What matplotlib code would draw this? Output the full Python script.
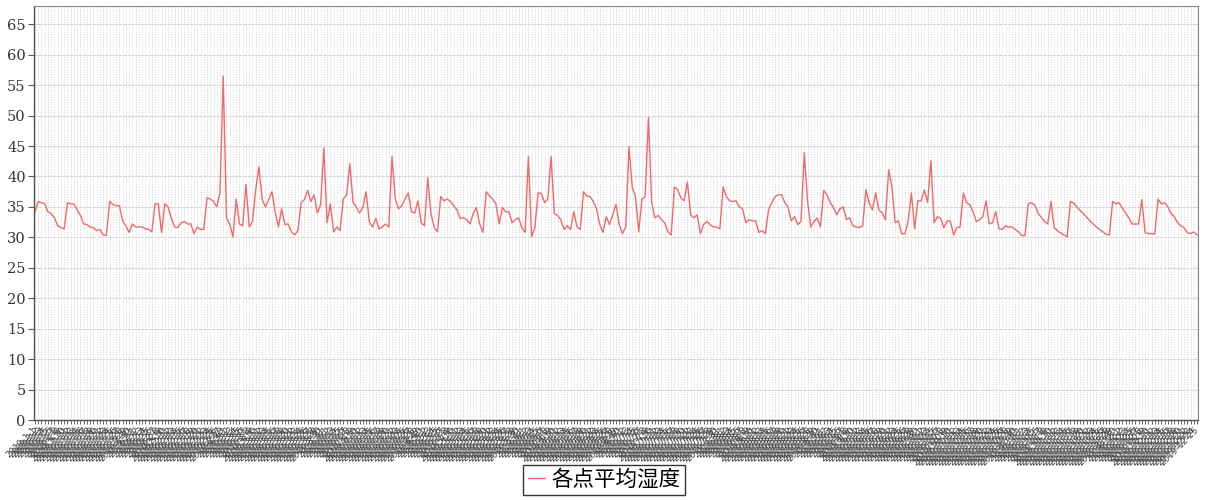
import matplotlib
matplotlib.use("Agg")
import matplotlib.pyplot as plt
import numpy as np
import datetime as dt

humidity = [
    34.2, 35.9, 35.7, 35.5, 34.2, 33.9, 33.2, 31.9, 31.6, 31.4,
    35.7, 35.5, 35.5, 34.5, 33.6, 32.2, 32.1, 31.7, 31.6,
    31.1, 31.3, 30.4, 30.3, 35.9, 35.4, 35.2, 35.2, 32.7, 31.9,
    30.8, 32.2, 31.7, 31.7, 31.7, 31.4, 31.3, 30.9, 35.5, 35.5,
    30.8, 35.5, 35.0, 33.2, 31.7, 31.6, 32.4, 32.6, 32.2, 32.2,
    30.6, 31.7, 31.3, 31.3, 36.5, 36.3, 35.9, 35.0, 37.3, 56.5,
    33.2, 32.2, 30.1, 36.3, 32.2, 31.9, 38.7, 31.7, 32.6, 37.8,
    41.6, 36.2, 35.0, 36.2, 37.5, 34.2, 31.7, 34.7, 32.1, 32.2,
    30.9, 30.4, 31.1, 35.7, 36.2, 37.7, 35.9, 37.0,
    34.0, 35.4, 44.7, 32.4,
    35.5, 30.9, 31.7, 31.1, 36.3, 37.0, 42.1, 35.7, 35.0,
    34.0, 34.9, 37.5, 32.6, 31.7, 33.1, 31.4, 31.7, 32.2, 31.7,
    43.3, 36.3, 34.7, 35.2, 36.3, 37.3, 34.2, 34.0, 36.0, 32.4,
    31.9, 39.8, 33.9, 31.6, 30.9, 36.7, 36.0, 36.3, 35.9,
    35.2, 34.5, 33.1, 33.2, 32.9, 32.2, 33.9, 34.9, 32.2, 30.8,
    37.5, 36.8, 36.3, 35.5, 32.2, 34.9, 34.2, 34.2, 32.4,
    32.9, 33.2, 31.6, 30.8, 43.3, 30.1, 31.6, 37.3, 37.2, 35.7,
    36.3, 43.3, 33.9, 33.6, 32.9, 31.3, 31.9, 31.3, 34.2,
    31.7, 31.3, 37.5, 36.8, 36.7, 35.9, 34.7, 32.1, 30.8, 33.4,
    32.1, 33.7, 35.4, 32.1, 30.6, 31.7, 44.9,
    38.2, 36.7, 30.9, 36.3, 36.7, 49.7, 35.7, 33.2, 33.6, 32.9,
    32.4, 30.9, 30.4, 38.3, 37.8, 36.5, 36.0, 39.1,
    33.7, 33.2, 33.7, 30.6, 32.1, 32.6, 32.1, 31.7, 31.7, 31.4,
    38.3, 36.7, 36.0, 35.9, 36.0, 35.0, 34.7, 32.4, 32.9, 32.7,
    32.7, 30.8, 31.1, 30.6, 34.5, 35.7, 36.7, 37.0, 37.0, 35.7,
    35.0, 32.7, 33.4, 32.1, 32.6, 43.9, 36.0, 31.7, 32.6, 33.2,
    31.7, 37.7, 37.0, 35.7, 34.9, 33.7, 34.7, 35.0, 32.9,
    33.2, 31.9, 31.7, 31.6, 31.9, 37.8, 35.7, 34.5, 37.3, 34.5,
    34.0, 32.9, 41.1, 38.3, 32.4, 32.7, 30.6, 30.6, 32.6, 37.3,
    31.4, 36.0, 36.0, 37.8, 35.7, 42.6,
    32.4, 33.4, 33.1, 31.6, 32.7, 32.7, 30.4, 31.6, 31.7,
    37.3, 35.7, 35.4, 34.2, 32.6, 32.9, 33.4, 36.0, 32.2, 32.4,
    34.2, 31.4, 31.3, 31.9, 31.7, 31.7, 31.3, 30.9, 30.3,
    30.3, 35.5, 35.7, 35.3, 34.0, 33.3, 32.6, 32.2, 35.9,
    31.6, 31.1, 30.7, 30.4, 30.1, 35.9, 35.6, 35.0, 34.4,
    33.9, 33.3, 32.7, 32.2, 31.7, 31.3, 30.9, 30.5, 30.4,
    35.9, 35.5, 35.7, 34.8, 34.0, 33.2, 32.2, 32.2, 32.2, 36.2,
    30.8, 30.6, 30.6, 30.6, 36.3, 35.5, 35.7, 35.0, 33.9, 33.4,
    32.4, 31.9, 31.6, 30.8, 30.6, 30.9, 30.4,
]

start = dt.date(2019, 1, 1)
categories = []
for i in range(len(humidity)):
    d = start + dt.timedelta(days=i)
    categories.append(f"{d.year}-{d.month}-{d.day}")
y_ticks = list(range(0, 70, 5))
series_name = "各点平均湿度"

plt.rcParams['font.family'] = ['Noto Sans CJK SC', 'DejaVu Sans']

fig = plt.figure(figsize=(12.07, 5.0), dpi=100)
ax = fig.add_axes([34/1207, 1-420/500, (1198-34)/1207, (420-6)/500])

x = np.arange(len(humidity))
line, = ax.plot(x, humidity, color='#ee6a6a', linewidth=1.0, label=series_name)

ax.set_xlim(-0.3, len(humidity) - 0.7)
ax.set_ylim(0, 68)
ax.set_yticks(y_ticks)
ax.set_yticklabels([str(v) for v in y_ticks], fontsize=10.5, family='DejaVu Serif', color='#333333')
ax.set_xticks(x)
ax.set_xticklabels(categories, rotation=45, ha='right', va='center', rotation_mode='anchor',
                   fontsize=6.3, color='#444444', family='DejaVu Sans')
ax.tick_params(axis='x', length=3, width=0.6, color='#555555', pad=3)
ax.tick_params(axis='y', length=4, width=0.8, color='#555555', pad=2)

ax.grid(axis='x', color='#d8d8d8', linestyle=(0, (1.5, 1.5)), linewidth=0.6)
ax.grid(axis='y', color='#d4d4d4', linestyle=(0, (3, 1)), linewidth=0.8)
ax.set_axisbelow(True)

for s in ['left', 'bottom']:
    ax.spines[s].set_color('#555555')
    ax.spines[s].set_linewidth(1.0)
for s in ['top', 'right']:
    ax.spines[s].set_color('#888888')
    ax.spines[s].set_linewidth(0.8)

leg = fig.legend(handles=[line], labels=[series_name], loc='center',
                 bbox_to_anchor=(604/1207, 1-480/500), frameon=True, fancybox=False,
                 handlelength=0.8, handletextpad=0.3, borderpad=0.2,
                 prop={'family': ['Noto Sans CJK SC'], 'size': 15.5})
leg.get_frame().set_edgecolor('black')
leg.get_frame().set_linewidth(1.0)

fig.savefig('out.png', dpi=100)
